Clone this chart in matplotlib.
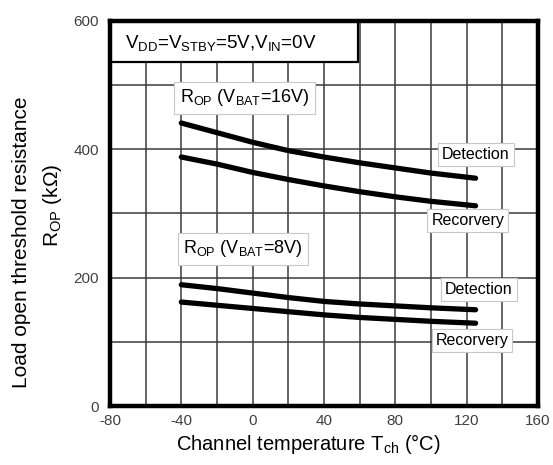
import matplotlib
matplotlib.use("Agg")
import matplotlib.pyplot as plt
from matplotlib.patches import Rectangle

plt.rcParams['font.family'] = ['Liberation Sans', 'DejaVu Sans']
plt.rcParams['mathtext.fontset'] = 'custom'
plt.rcParams['mathtext.rm'] = 'Liberation Sans'
plt.rcParams['mathtext.it'] = 'Liberation Sans:italic'
plt.rcParams['mathtext.bf'] = 'Liberation Sans:bold'
plt.rcParams['axes.unicode_minus'] = False

# Data (channel temperature in °C, resistance in kΩ)
temps = [-40, -20, 0, 20, 40, 60, 80, 100, 125]
det_16v = [441, 426, 411, 398, 388, 379, 371, 363, 355]
rec_16v = [388, 377, 364, 353, 343, 334, 326, 319, 312]
det_8v = [189, 183, 176, 169, 163, 159, 156, 153, 150]
rec_8v = [162, 157, 152, 147, 142, 138, 135, 132, 129]

x_ticks = [-80, -40, 0, 40, 80, 120, 160]
y_ticks = [0, 200, 400, 600]

fig = plt.figure(figsize=(5.53, 4.65), dpi=100)
ax = fig.add_axes([110/553, 59/465, 428/553, 385/465])

for ys in (det_16v, rec_16v, det_8v, rec_8v):
    ax.plot(temps, ys, color='black', lw=3.8, solid_capstyle='round', zorder=3)

ax.set_xlim(-80, 160)
ax.set_ylim(0, 600)
ax.set_xticks(x_ticks)
ax.set_yticks(y_ticks)
ax.set_xticks(range(-80, 161, 20), minor=True)
ax.set_yticks(range(0, 601, 100), minor=True)
ax.grid(True, which='both', color='#3a3a3a', lw=1.1, zorder=1)
ax.tick_params(which='both', length=0, labelsize=11, labelcolor='#404040')
ax.tick_params(axis='x', pad=6)
ax.tick_params(axis='y', pad=8)
for s in ax.spines.values():
    s.set_linewidth(3.2)
    s.set_color('black')
    s.set_zorder(5)

def sub(s):
    return r'$\mathregular{_{' + s + r'}}$'

# Condition box
ax.add_patch(Rectangle((0, 0.8935), 0.579, 0.1065, transform=ax.transAxes,
                       facecolor='white', edgecolor='black', lw=1.6, zorder=4))
ax.text(0.035, 0.944, 'V' + sub('DD') + '=V' + sub('STBY') + '=5V,V' + sub('IN') + '=0V',
        transform=ax.transAxes, ha='left', va='center', fontsize=13.5, zorder=6)

box = dict(boxstyle='square,pad=0.3', facecolor='white', edgecolor='#c8c8c8', lw=0.8)
ax.text(-4.5, 480, 'R' + sub('OP') + ' (V' + sub('BAT') + '=16V)', ha='center', va='center',
        fontsize=13, bbox=box, zorder=6)
ax.text(-5.4, 245, 'R' + sub('OP') + ' (V' + sub('BAT') + '=8V)', ha='center', va='center',
        fontsize=13, bbox=box, zorder=6)

box2 = dict(boxstyle='square,pad=0.25', facecolor='white', edgecolor='#c8c8c8', lw=0.8)
ax.text(125.2, 392, 'Detection', ha='center', va='center', fontsize=11.5, bbox=box2, zorder=6)
ax.text(120.7, 289, 'Recorvery', ha='center', va='center', fontsize=11.5, bbox=box2, zorder=6)
ax.text(126.9, 182, 'Detection', ha='center', va='center', fontsize=11.5, bbox=box2, zorder=6)
ax.text(123.0, 102, 'Recorvery', ha='center', va='center', fontsize=11.5, bbox=box2, zorder=6)

fig.text(308/553, 1 - 444/465, 'Channel temperature T' + sub('ch') + ' (°C)',
         ha='center', va='center', fontsize=14.5)
fig.text(22/553, 1 - 242/465, 'Load open threshold resistance', rotation=90,
         ha='center', va='center', fontsize=15)
fig.text(52/553, 1 - 205/465, 'R' + sub('OP') + ' (kΩ)', rotation=90,
         ha='center', va='center', fontsize=15)

fig.savefig('out.png', dpi=100)
